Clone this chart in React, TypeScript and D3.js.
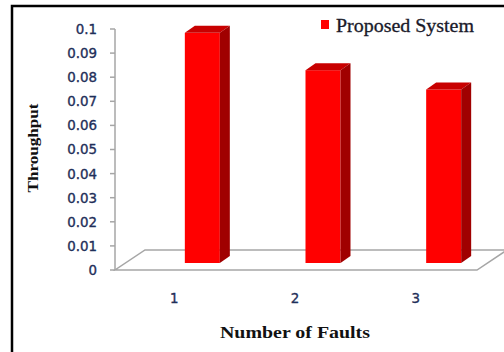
import React from "react";
import * as d3 from "d3";

const categories = ["1", "2", "3"];
const values = [0.0955, 0.08, 0.072];
const yTicks = [0, 0.01, 0.02, 0.03, 0.04, 0.05, 0.06, 0.07, 0.08, 0.09, 0.1];
const seriesName = "Proposed System";
const xTitle = "Number of Faults";
const yTitle = "Throughput";

const W = 504;
const H = 352;

export default function App() {
  const y = d3.scaleLinear().domain([0, 0.1]).range([270, 29]);
  const x = d3.scaleBand<string>().domain(categories).range([115, 477]);
  const floorDx = 30;
  const floorDy = -20;
  const barDepthShift = 27; // bars sit deeper than the front edge
  const barW = 35;
  const bdx = 10;
  const bdy = -7;
  const barBase = y(0) - 7;
  const axisColor = "#A6A6A6";
  const labelColor = "#1F2F5A";
  const y0 = y(0);
  const xl = x.range()[0];
  const xr = x.range()[1];

  return (
    <svg
      width={W}
      height={H}
      style={{ position: "absolute", left: 0, top: 0, background: "#fff" }}
    >
      <rect x={0} y={0} width={W} height={H} fill="#fff" />
      {/* floor */}
      <polygon
        points={`${xl},${y0} ${xr},${y0} ${xr + floorDx},${y0 + floorDy} ${xl + floorDx},${y0 + floorDy}`}
        fill="#fff"
        stroke={axisColor}
        strokeWidth={1.5}
      />
      {/* y axis */}
      <line x1={xl} x2={xl} y1={y(0.1)} y2={y0} stroke={axisColor} strokeWidth={1.5} />
      {yTicks.map((t) => (
        <g key={t}>
          <line x1={xl - 5} x2={xl} y1={y(t)} y2={y(t)} stroke={axisColor} strokeWidth={1.5} />
          <text
            x={97}
            y={y(t)}
            dy="0.37em"
            textAnchor="end"
            fontFamily="DejaVu Sans, Verdana, sans-serif"
            fontSize={13.4}
            fill={labelColor}
            stroke={labelColor}
            strokeWidth={0.35}
          >
            {d3.format("~g")(t)}
          </text>
        </g>
      ))}
      {/* bars */}
      {categories.map((c, i) => {
        const cx = (x(c) as number) + x.bandwidth() / 2 + barDepthShift;
        const x0 = cx - barW / 2;
        const x1 = cx + barW / 2;
        const top = barBase - (y0 - y(values[i]));
        return (
          <g key={c}>
            <rect x={x0} y={top} width={barW} height={barBase - top} fill="#FF0000" />
            <polygon
              points={`${x0},${top} ${x0 + bdx},${top + bdy} ${x1 + bdx},${top + bdy} ${x1},${top}`}
              fill="#C80000"
            />
            <polygon
              points={`${x1},${top} ${x1 + bdx},${top + bdy} ${x1 + bdx},${barBase + bdy} ${x1},${barBase}`}
              fill="#A00000"
            />
          </g>
        );
      })}
      {/* category labels */}
      {categories.map((c) => (
        <text
          key={c}
          x={(x(c) as number) + x.bandwidth() / 2 - 1}
          y={303}
          textAnchor="middle"
          fontFamily="DejaVu Sans, Verdana, sans-serif"
          fontSize={13.4}
          fill={labelColor}
          stroke={labelColor}
          strokeWidth={0.35}
        >
          {c}
        </text>
      ))}
      {/* axis titles */}
      <text
        x={295}
        y={338}
        textAnchor="middle"
        fontFamily="Liberation Serif, Times New Roman, serif"
        fontWeight="bold"
        fontSize={17}
        textLength={150}
        lengthAdjust="spacingAndGlyphs"
        fill="#111"
      >
        {xTitle}
      </text>
      <text
        transform={`translate(38,148) rotate(-90)`}
        textAnchor="middle"
        fontFamily="Liberation Serif, Times New Roman, serif"
        fontWeight="bold"
        fontSize={15}
        textLength={89}
        lengthAdjust="spacingAndGlyphs"
        fill="#111"
      >
        {yTitle}
      </text>
      {/* legend */}
      <rect x={321} y={20} width={8} height={9} fill="#FF0000" />
      <text
        x={336}
        y={32}
        fontFamily="Liberation Serif, Times New Roman, serif"
        fontSize={18}
        textLength={138}
        lengthAdjust="spacingAndGlyphs"
        fill="#1A1A2A"
        stroke="#1A1A2A"
        strokeWidth={0.3}
      >
        {seriesName}
      </text>
      {/* outer border */}
      <rect x={12} y={6} width={560} height={420} fill="none" stroke="#000" strokeWidth={2.5} />
    </svg>
  );
}
